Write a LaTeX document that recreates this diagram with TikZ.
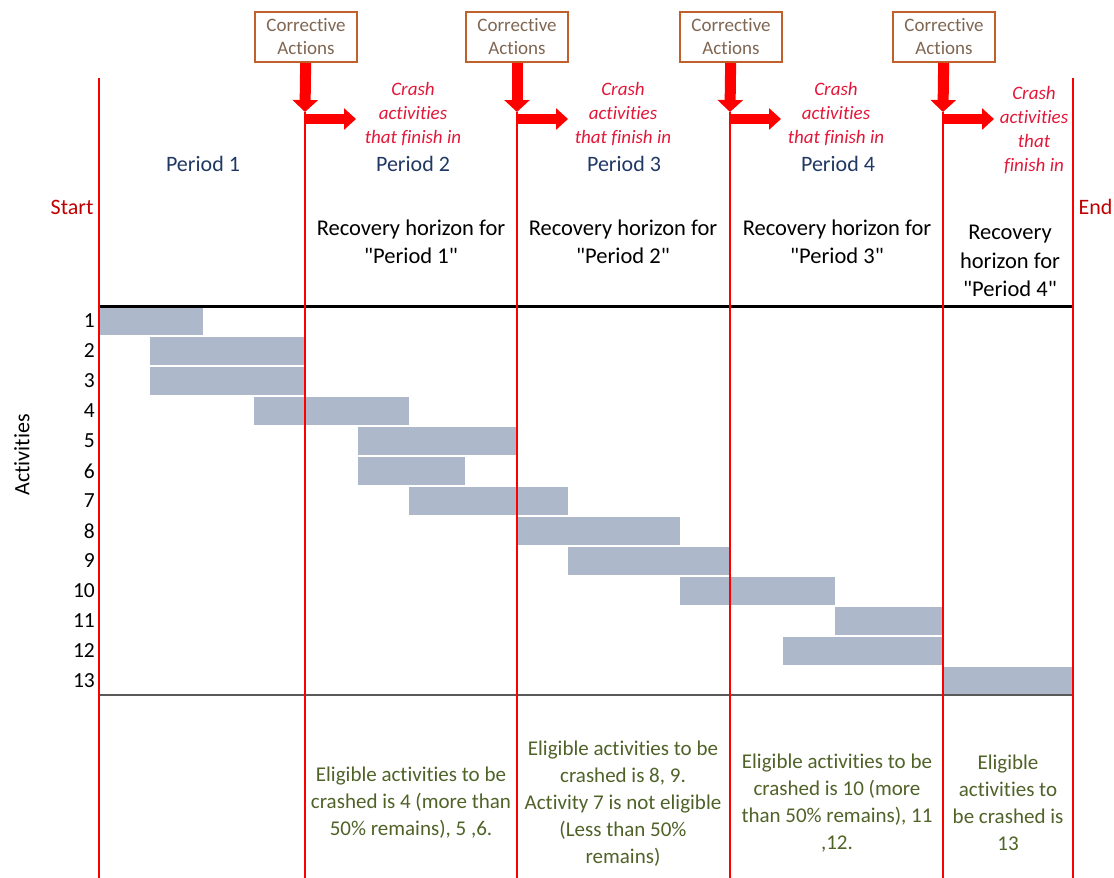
\documentclass[tikz,border=0pt]{standalone}
\usepackage{fontspec}
\setmainfont{Carlito}[Ligatures={TeXOff,CommonOff}]
\usetikzlibrary{arrows.meta,positioning}
\definecolor{barblue}{HTML}{ADB9CA}
\definecolor{caorange}{HTML}{C0602A}
\definecolor{cabrown}{HTML}{7F6652}
\definecolor{crashred}{HTML}{E3173A}
\definecolor{navy}{HTML}{1F3864}
\definecolor{darkred}{HTML}{C00000}
\definecolor{eligreen}{HTML}{4F6228}

\begin{document}
\begin{tikzpicture}[x=1pt,y=-1pt,
  cabox/.style={draw=caorange,line width=2pt,text=cabrown,align=center,font=\fontsize{19}{23}\selectfont,minimum width=102pt,minimum height=50pt,inner sep=0pt},
  crash/.style={text=crashred,align=center,font=\fontsize{19}{24}\selectfont\itshape},
  per/.style={text=navy,font=\fontsize{22}{28}\selectfont},
  rec/.style={align=center,font=\fontsize{22.5}{28.5}\selectfont},
  elig/.style={text=eligreen,align=center,font=\fontsize{21}{27}\selectfont},
  num/.style={anchor=east,inner sep=0pt,font=\fontsize{21.5}{25}\selectfont},
  redline/.style={red,line width=2.5pt},
  down/.style={red,line width=11pt,-{Triangle[width=25pt,length=12pt]}},
  side/.style={red,line width=10pt,-{Triangle[width=21pt,length=12pt]}}]
\useasboundingbox (0,0) rectangle (1114,878);

\fill[barblue] (99,307) rectangle (203,335);
\fill[barblue] (150,337) rectangle (305,365);
\fill[barblue] (150,367) rectangle (305,395);
\fill[barblue] (254,397) rectangle (409,425);
\fill[barblue] (358,427) rectangle (517,455);
\fill[barblue] (358,457) rectangle (465,485);
\fill[barblue] (409,487) rectangle (568,515);
\fill[barblue] (517,517) rectangle (680,545);
\fill[barblue] (568,547) rectangle (730,575);
\fill[barblue] (680,577) rectangle (835,605);
\fill[barblue] (835,607) rectangle (943,635);
\fill[barblue] (783,637) rectangle (943,665);
\fill[barblue] (943,667) rectangle (1073,695);

\coordinate (st) at (99,78);   \coordinate (sb) at (99,878);
\coordinate (et) at (1073,78); \coordinate (eb) at (1073,878);
\coordinate (hl) at (99,306);  \coordinate (hr) at (1073,306);
\coordinate (gl) at (99,695);  \coordinate (gr) at (1073,695);

\node[cabox] (ca1) at (306,37) {Corrective\\Actions};
\node[cabox] (ca2) at (517,37) {Corrective\\Actions};
\node[cabox] (ca3) at (731,37) {Corrective\\Actions};
\node[cabox] (ca4) at (944,37) {Corrective\\Actions};

\coordinate (t1) at (305,112); \coordinate (b1) at (305,878);
\coordinate (t2) at (517,112); \coordinate (b2) at (517,878);
\coordinate (t3) at (730,112); \coordinate (b3) at (730,878);
\coordinate (t4) at (943,112); \coordinate (b4) at (943,878);
\coordinate (s1) at (305,119); \coordinate (r1) at (356,119);
\coordinate (s2) at (517,119); \coordinate (r2) at (568,119);
\coordinate (s3) at (730,119); \coordinate (r3) at (781,119);
\coordinate (s4) at (943,119); \coordinate (r4) at (994,119);

\draw[gray!70!black,line width=1.5pt] (gl) -- (gr);
\draw[black,line width=3pt] (hl) -- (hr);
\draw[redline] (st) -- (sb);
\draw[redline] (et) -- (eb);
\path[redline] (t1) edge (b1)
               (t2) edge (b2)
               (t3) edge (b3)
               (t4) edge (b4);
\path (ca1) edge[down] (t1)
      (ca2) edge[down] (t2)
      (ca3) edge[down] (t3)
      (ca4) edge[down] (t4)
      (s1) edge[side] (r1)
      (s2) edge[side] (r2)
      (s3) edge[side] (r3)
      (s4) edge[side] (r4);

\node[crash] (cr1) at (413,114) {Crash\\activities\\that finish in};
\node[crash] (cr2) at (623,114) {Crash\\activities\\that finish in};
\node[crash] (cr3) at (836,114) {Crash\\activities\\that finish in};
\node[crash] (cr4) at (1034,130) {Crash\\activities\\that\\finish in};

\node[per] (p1) at (203,164) {Period 1};
\node[per] (p2) at (413,164) {Period 2};
\node[per] (p3) at (624,164) {Period 3};
\node[per] (p4) at (838,164) {Period 4};

\node[anchor=east,text=darkred,font=\fontsize{22}{26}\selectfont] (start) at (97,207) {Start};
\node[anchor=west,text=darkred,font=\fontsize{22}{26}\selectfont] (end) at (1075,207) {End};

\node[rec] (rec1) at (411,242) {Recovery horizon for\\"Period 1"};
\node[rec] (rec2) at (623,242) {Recovery horizon for\\"Period 2"};
\node[rec] (rec3) at (837,242) {Recovery horizon for\\"Period 3"};
\node[rec] (rec4) at (1010,261) {Recovery\\horizon for\\"Period 4"};

\node[num] (n1) at (95,321) {1};
\node[num] (n2) at (95,351) {2};
\node[num] (n3) at (95,381) {3};
\node[num] (n4) at (95,411) {4};
\node[num] (n5) at (95,441) {5};
\node[num] (n6) at (95,471) {6};
\node[num] (n7) at (95,501) {7};
\node[num] (n8) at (95,531) {8};
\node[num] (n9) at (95,561) {9};
\node[num] (n10) at (95,591) {10};
\node[num] (n11) at (95,621) {11};
\node[num] (n12) at (95,651) {12};
\node[num] (n13) at (95,681) {13};
\node[rotate=90,font=\fontsize{22}{26}\selectfont] (act) at (22,455) {Activities};

\node[elig] (el1) at (411,803) {Eligible activities to be\\crashed is 4 (more than\\50\% remains), 5 ,6.};
\node[elig] (el2) at (623,804) {Eligible activities to be\\crashed is 8, 9.\\Activity 7 is not eligible\\(Less than 50\%\\remains)};
\node[elig] (el3) at (837,803) {Eligible activities to be\\crashed is 10 (more\\than 50\% remains), 11\\,12.};
\node[elig] (el4) at (1008,803) {Eligible\\activities to\\be crashed is\\13};
\end{tikzpicture}
\end{document}
